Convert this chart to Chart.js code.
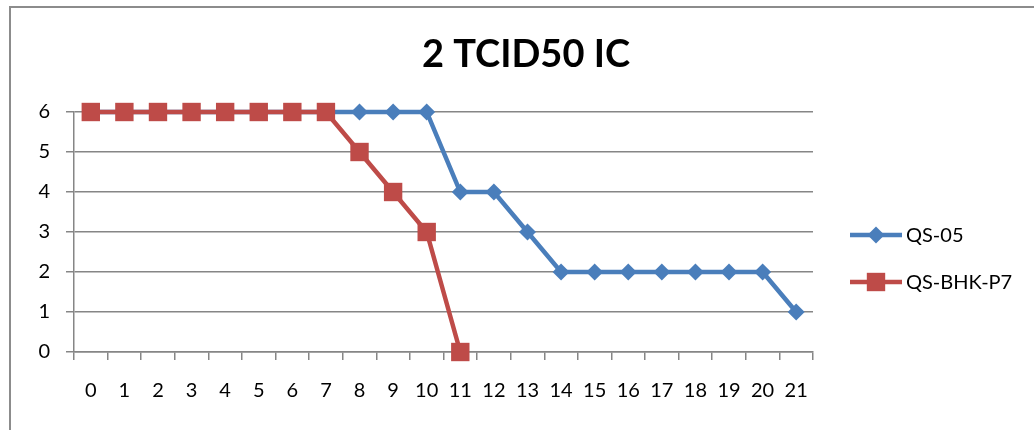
<!DOCTYPE html>
<html>
<head>
<meta charset="utf-8">
<script src="https://cdn.jsdelivr.net/npm/chart.js@4/dist/chart.umd.min.js"></script>
<style>
  html, body { margin: 0; padding: 0; background: #fff; overflow: hidden; }
  #wrap { position: relative; width: 1034px; height: 430px; }
  #frame { position: absolute; left: 9px; top: 6px; width: 2000px; height: 1000px;
           border-left: 2px solid #8c8c8c; border-top: 2px solid #8c8c8c; }
  canvas { position: absolute; left: 0; top: 0; }
</style>
</head>
<body>
<div id="wrap">
  <div id="frame"></div>
  <canvas id="tcidChart" width="1034" height="430"></canvas>
</div>
<script>
// Data grafik
const chartTitle = '2 TCID50 IC';
const days = ['0','1','2','3','4','5','6','7','8','9','10','11','12','13','14','15','16','17','18','19','20','21'];
const qs05 = [6, 6, 6, 6, 6, 6, 6, 6, 6, 6, 6, 4, 4, 3, 2, 2, 2, 2, 2, 2, 2, 1];
const qsBhkP7 = [6, 6, 6, 6, 6, 6, 6, 6, 5, 4, 3, 0];
const yTicks = [0, 1, 2, 3, 4, 5, 6];

const fontFamily = 'Lato, "Open Sans", sans-serif';

// Plugin untuk judul dan legenda (garis + penanda seperti Excel)
const decorPlugin = {
    id: 'decor',
    afterDraw(chart) {
        const ctx = chart.ctx;
        ctx.save();
        ctx.fillStyle = '#000';
        ctx.font = 'bold 38px ' + fontFamily;
        ctx.textAlign = 'center';
        ctx.textBaseline = 'alphabetic';
        ctx.fillText(chartTitle, 526, 67);

        const rows = [235, 282];
        chart.data.datasets.forEach((ds, i) => {
            const y = rows[i];
            ctx.strokeStyle = ds.borderColor;
            ctx.lineWidth = ds.borderWidth;
            ctx.beginPath();
            ctx.moveTo(850, y);
            ctx.lineTo(902, y);
            ctx.stroke();
            ctx.fillStyle = ds.pointBackgroundColor;
            ctx.strokeStyle = ds.pointBackgroundColor;
            Chart.helpers.drawPoint(ctx, {
                pointStyle: ds.pointStyle,
                radius: ds.pointRadius,
                rotation: 0,
                borderWidth: 0
            }, 876, y);
            ctx.fillStyle = '#000';
            ctx.font = '20px ' + fontFamily;
            ctx.textAlign = 'left';
            ctx.textBaseline = 'middle';
            ctx.fillText(ds.label, 906, y + 1);
        });
        ctx.restore();
    }
};

const ctx = document.getElementById('tcidChart').getContext('2d');
const tcidChart = new Chart(ctx, {
    type: 'line',
    data: {
        labels: days,
        datasets: [{
            label: 'QS-05',
            data: qs05,
            order: 1,
            clip: false,
            borderColor: '#4a7ebb',
            backgroundColor: '#4a7ebb',
            pointBackgroundColor: '#4a7ebb',
            pointBorderColor: '#4a7ebb',
            borderWidth: 4.5,
            pointStyle: 'rectRot',
            pointRadius: 8.5,
            pointBorderWidth: 0,
            tension: 0
        },
        {
            label: 'QS-BHK-P7',
            data: qsBhkP7,
            order: 0,
            clip: false,
            borderColor: '#be4b48',
            backgroundColor: '#be4b48',
            pointBackgroundColor: '#be4b48',
            pointBorderColor: '#be4b48',
            borderWidth: 4.5,
            pointStyle: 'rect',
            pointRadius: 13,
            pointBorderWidth: 0,
            tension: 0
        }]
    },
    options: {
        responsive: false,
        animation: false,
        layout: {
            padding: { left: 34, right: 221, top: 112, bottom: 28 }
        },
        plugins: {
            legend: { display: false },
            title: { display: false },
            tooltip: { enabled: false }
        },
        scales: {
            x: {
                type: 'category',
                offset: true,
                afterFit(scale) { scale.height = 50; },
                grid: {
                    offset: true,
                    drawOnChartArea: false,
                    drawTicks: true,
                    tickLength: 8,
                    color: '#868686',
                    lineWidth: 1.5
                },
                border: { color: '#868686', width: 1.5 },
                ticks: {
                    color: '#000',
                    font: { family: fontFamily, size: 20 },
                    padding: 19,
                    maxRotation: 0,
                    autoSkip: false
                }
            },
            y: {
                min: yTicks[0],
                max: yTicks[yTicks.length - 1],
                afterFit(scale) { scale.width = 40; },
                afterBuildTicks(scale) { scale.ticks = yTicks.map(v => ({ value: v })); },
                grid: {
                    color: '#868686',
                    lineWidth: 1.5,
                    drawTicks: true,
                    tickLength: 8
                },
                border: { color: '#868686', width: 1.5 },
                ticks: {
                    color: '#000',
                    font: { family: fontFamily, size: 20 },
                    padding: 16
                }
            }
        }
    },
    plugins: [decorPlugin]
});
</script>
</body>
</html>
